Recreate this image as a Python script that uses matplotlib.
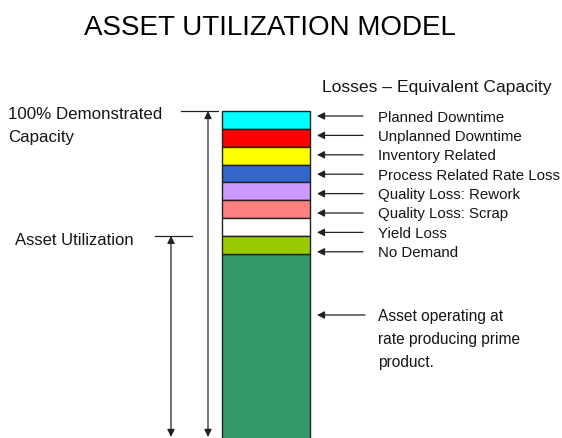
import matplotlib
matplotlib.use("Agg")
import matplotlib.pyplot as plt

plt.rcParams['font.family'] = ['Liberation Sans', 'DejaVu Sans']

# ---- data ----
title = "ASSET UTILIZATION MODEL"
losses_header = "Losses \u2013 Equivalent Capacity"
loss_labels = ["Planned Downtime", "Unplanned Downtime", "Inventory Related",
               "Process Related Rate Loss", "Quality Loss: Rework",
               "Quality Loss: Scrap", "Yield Loss", "No Demand"]
loss_values = [1, 1, 1, 1, 1, 1, 1, 1]
loss_colors = ["#00FFFF", "#FF0000", "#FFFF00", "#3366CC", "#CC99FF",
               "#FF8080", "#FFFFFF", "#99CC00"]
prime_value = 10.5
prime_color = "#339966"
prime_lines = ["Asset operating at", "rate producing prime", "product."]
capacity_lines = ["100% Demonstrated", "Capacity"]
utilization_label = "Asset Utilization"

# ---- layout ----
W, H = 562, 438
PX_PER_UNIT = 17.84
fig = plt.figure(figsize=(W / 100, H / 100), dpi=100)
ax = fig.add_axes([0, 0, 1, 1])
ax.set_axis_off()
total = prime_value + sum(loss_values)
y_top = total + 111 / PX_PER_UNIT
y_bot = y_top - H / PX_PER_UNIT
ax.set_xlim(0, W)
ax.set_ylim(y_bot, y_top)


def py(p):
    """pixel row (from top) -> data y"""
    return y_top - p / PX_PER_UNIT


bar_x, bar_w = 266, 88
edge = "#222222"
# prime product segment
ax.bar(bar_x, prime_value, width=bar_w, bottom=0, color=prime_color,
       edgecolor=edge, linewidth=1.0)
# loss segments stacked from top downward in list order
bottoms = []
b = prime_value
for v in reversed(loss_values):
    bottoms.append(b)
    b += v
bottoms = list(reversed(bottoms))
ax.bar([bar_x] * len(loss_values), loss_values, width=bar_w, bottom=bottoms,
       color=loss_colors, edgecolor=edge, linewidth=1.0)

txt = '#151515'
# title / header
ax.text(269.5, py(35), title, fontsize=20, ha='center', va='baseline', color='black')
ax.text(322, py(92), losses_header, fontsize=12.6, ha='left', va='baseline', color=txt)

arrow_kw = dict(arrowstyle='-|>', color='#222222', lw=0.9, mutation_scale=11,
                shrinkA=0, shrinkB=0)
# loss labels with arrows
for i, lab in enumerate(loss_labels):
    yp = 116 + i * 19.4
    ax.annotate('', xy=(317, py(yp)), xytext=(363, py(yp)), arrowprops=arrow_kw)
    ax.text(378, py(yp + 5.5), lab, fontsize=10.8, ha='left', va='baseline', color=txt)

# prime product label
ax.annotate('', xy=(317, py(315)), xytext=(365, py(315)), arrowprops=arrow_kw)
for j, line in enumerate(prime_lines):
    ax.text(378, py(321 + j * 23), line, fontsize=11.2, ha='left', va='baseline', color=txt)

vkw = dict(arrowstyle='<|-|>', color='#222222', lw=0.9, mutation_scale=11,
           shrinkA=0, shrinkB=0)
# left: 100% demonstrated capacity
ax.plot([181, 218], [total, total], color='#222222', lw=0.9)
ax.annotate('', xy=(208, total), xytext=(208, y_bot + 0.06), arrowprops=vkw)
ax.text(8, py(119), capacity_lines[0], fontsize=12.2, ha='left', va='baseline', color=txt)
ax.text(8, py(142), capacity_lines[1], fontsize=12.2, ha='left', va='baseline', color=txt)

# left: asset utilization (prime + no demand)
util = prime_value + loss_values[-1]
ax.plot([155, 192], [util, util], color='#222222', lw=0.9)
ax.annotate('', xy=(171, util), xytext=(171, y_bot + 0.06), arrowprops=vkw)
ax.text(15, py(245), utilization_label, fontsize=12.0, ha='left', va='baseline', color=txt)

fig.savefig("out.png", dpi=100, facecolor='white')
